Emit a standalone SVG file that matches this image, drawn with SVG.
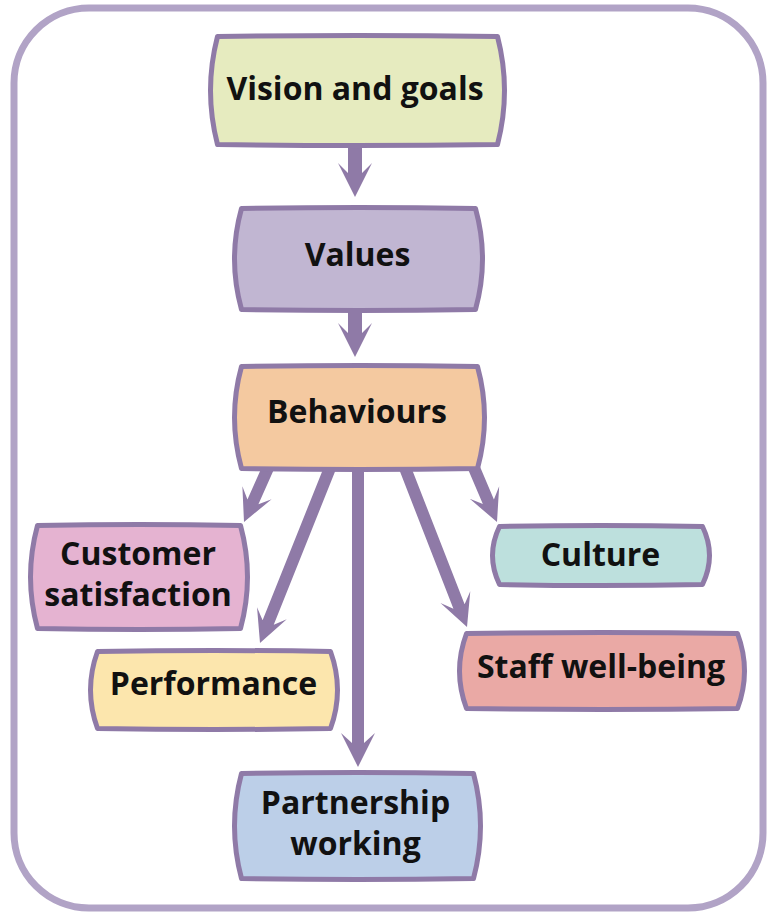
<svg xmlns="http://www.w3.org/2000/svg" width="769" height="912" viewBox="0 0 769 912">
<style>
.frame{fill:#ffffff;stroke:#b1a3c6;stroke-width:7}
.box{stroke:#8f7aa7;stroke-width:5;stroke-linejoin:round}
.arrow{fill:#8f7aa7}
text{font-family:"Open Sans","Noto Sans","DejaVu Sans",sans-serif;font-weight:700;font-size:32px;fill:#111111;text-anchor:middle}
</style>
<rect class="frame" x="14" y="8" width="749" height="900" rx="75" ry="75"/>
<g id="connectors">
<path class="arrow" transform="translate(355,197)" d="M-7,-51 L7,-51 L7,-24 L17,-34 L0,0 L-17,-34 L-7,-24 Z"/>
<path class="arrow" transform="translate(355,357)" d="M-7,-46 L7,-46 L7,-24 L17,-34 L0,0 L-17,-34 L-7,-24 Z"/>
<path class="arrow" transform="translate(244,522) rotate(23.96)" d="M-6,-59 L6,-59 L6,-22 L16,-32 L0,0 L-16,-32 L-6,-22 Z"/>
<path class="arrow" transform="translate(260,643) rotate(21.8)" d="M-6,-189 L6,-189 L6,-22 L16,-32 L0,0 L-16,-32 L-6,-22 Z"/>
<path class="arrow" transform="translate(358,767)" d="M-6,-299 L6,-299 L6,-24 L17,-34 L0,0 L-17,-34 L-6,-24 Z"/>
<path class="arrow" transform="translate(467,627) rotate(-21.3)" d="M-6,-171 L6,-171 L6,-22 L16,-32 L0,0 L-16,-32 L-6,-22 Z"/>
<path class="arrow" transform="translate(497,522) rotate(-23.07)" d="M-6,-59 L6,-59 L6,-22 L16,-32 L0,0 L-16,-32 L-6,-22 Z"/>
</g>
<g id="vision">
<path class="box" fill="#e6ebbf" d="M217.5,36.5 Q357.5,34.5 497.5,36.5 Q511.5,90.5 497.5,144.5 Q357.5,146.5 217.5,144.5 Q203.5,90.5 217.5,36.5 Z"/>
<text x="355" y="100">Vision and goals</text>
</g>
<g id="values">
<path class="box" fill="#c1b6d2" d="M241.5,208.5 Q358.5,206.5 475.5,208.5 Q489.5,259 475.5,309.5 Q358.5,311.5 241.5,309.5 Q227.5,259 241.5,208.5 Z"/>
<text x="357.5" y="266">Values</text>
</g>
<g id="behaviours">
<path class="box" fill="#f4c9a0" d="M241.5,366.5 Q359.5,364.5 477.5,366.5 Q491.5,417.5 477.5,468.5 Q359.5,470.5 241.5,468.5 Q227.5,417.5 241.5,366.5 Z"/>
<text x="357" y="423">Behaviours</text>
</g>
<g id="customer">
<path class="box" fill="#e5b3d1" d="M37.5,525.5 Q139,523.5 240.5,525.5 Q254.5,577 240.5,628.5 Q139,630.5 37.5,628.5 Q23.5,577 37.5,525.5 Z"/>
<text x="138" y="565">Customer</text>
<text x="138" y="606">satisfaction</text>
</g>
<g id="performance">
<path class="box" fill="#fce6ad" d="M97.5,651.5 Q214,649.5 330.5,651.5 Q344.5,690 330.5,728.5 Q214,730.5 97.5,728.5 Q83.5,690 97.5,651.5 Z"/>
<text x="213.5" y="695">Performance</text>
</g>
<g id="culture">
<path class="box" fill="#bde0dd" d="M499.5,526.5 Q601,524.5 702.5,526.5 Q716.5,555.5 702.5,584.5 Q601,586.5 499.5,584.5 Q485.5,555.5 499.5,526.5 Z"/>
<text x="600.5" y="566">Culture</text>
</g>
<g id="staff">
<path class="box" fill="#eaa9a5" d="M466.5,633.5 Q602,631.5 737.5,633.5 Q751.5,671 737.5,708.5 Q602,710.5 466.5,708.5 Q452.5,671 466.5,633.5 Z"/>
<text x="601" y="678">Staff well-being</text>
</g>
<g id="partnership">
<path class="box" fill="#bccfe8" d="M241.5,773.5 Q357.5,771.5 473.5,773.5 Q487.5,826 473.5,878.5 Q357.5,880.5 241.5,878.5 Q227.5,826 241.5,773.5 Z"/>
<text x="355.5" y="814">Partnership</text>
<text x="355.5" y="855">working</text>
</g>
</svg>
